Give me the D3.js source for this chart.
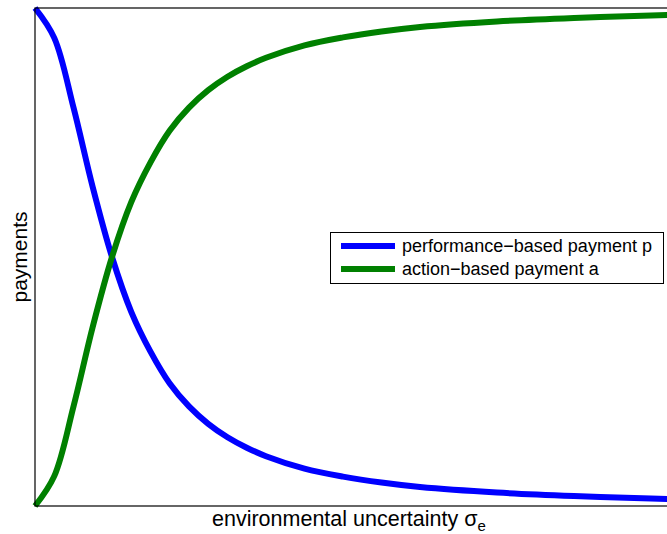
<!DOCTYPE html>
<html><head><meta charset="utf-8">
<script src="https://cdn.jsdelivr.net/npm/d3@7/dist/d3.min.js"></script>
<style>body{margin:0;background:#fff}svg{display:block}text{font-family:"Liberation Sans",Arial,sans-serif}</style>
</head><body><svg id="c" width="667" height="534"></svg>
<script>
// environmental uncertainty (sigma_e)
const sigma = [0, 0.25, 0.5, 0.75, 1, 1.25, 1.5, 1.75, 2, 2.25, 2.5, 2.75, 3, 3.5, 4, 4.5, 5, 6, 7, 8, 8.6];
// performance-based payment p
const perf = [1, 0.94, 0.80, 0.64, 0.50, 0.39, 0.31, 0.246, 0.20, 0.165, 0.138, 0.117, 0.10, 0.075, 0.059, 0.047, 0.038, 0.027, 0.020, 0.015, 0.013];
// action-based payment a
const action = [0, 0.06, 0.20, 0.36, 0.50, 0.61, 0.69, 0.754, 0.80, 0.835, 0.862, 0.883, 0.90, 0.925, 0.941, 0.953, 0.962, 0.973, 0.980, 0.985, 0.987];
const seriesNames = ["performance\u2212based payment p", "action\u2212based payment a"];
const colors = ["#0000ff", "#008000"];

const svg = d3.select("#c");
const L = 35, T = 8, B = 506, R = 35 + 8.6 * 77;
const x = d3.scaleLinear().domain([0, 8.6]).range([L, R]);
const y = d3.scaleLinear().domain([0, 1]).range([B, T]);

const g = svg.append("g");
const line = d3.line().x(d => x(d[0])).y(d => y(d[1])).curve(d3.curveCatmullRom.alpha(0.5));
[perf, action].forEach((s, i) => {
  g.append("path").datum(sigma.map((v, j) => [v, s[j]]))
    .attr("d", line).attr("fill", "none").attr("stroke", colors[i])
    .attr("stroke-width", 6).attr("stroke-linejoin", "round");
});
// axes box
svg.append("rect").attr("x", L).attr("y", T).attr("width", R - L).attr("height", B - T)
  .attr("fill", "none").attr("stroke", "#000").attr("stroke-width", 1.2);

// legend
const lg = svg.append("g");
lg.append("rect").attr("x", 330.5).attr("y", 232.5).attr("width", 333).attr("height", 51)
  .attr("fill", "#fff").attr("stroke", "#000").attr("stroke-width", 1);
seriesNames.forEach((n, i) => {
  const yy = 246 + i * 23;
  lg.append("line").attr("x1", 341).attr("x2", 395).attr("y1", yy).attr("y2", yy)
    .attr("stroke", colors[i]).attr("stroke-width", 6);
  lg.append("text").attr("x", 402).attr("y", yy + 6).attr("font-size", 18)
    .attr("textLength", 250).attr("lengthAdjust", "spacingAndGlyphs").text(n);
});
lg.selectAll("text").filter((d, i) => i === 1).attr("textLength", null);

// axis labels
svg.append("text").attr("transform", "translate(27,257) rotate(-90)")
  .attr("text-anchor", "middle").attr("font-size", 21).text("payments");
const xl = svg.append("text").attr("x", 212).attr("y", 526).attr("font-size", 21.5);
xl.append("tspan").text("environmental uncertainty \u03c3");
xl.append("tspan").attr("font-size", 15).attr("dy", 5).text("e");
</script></body></html>
